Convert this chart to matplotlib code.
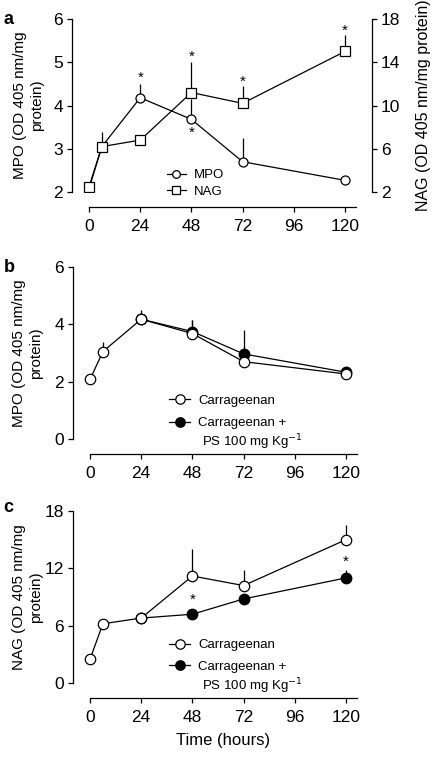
import numpy as np
import matplotlib
matplotlib.use('Agg')
import matplotlib.pyplot as plt

plt.rcParams['font.family'] = ['Liberation Sans', 'DejaVu Sans']
plt.rcParams['font.size'] = 12.5

# time points (hours)
hours = [0, 6, 24, 48, 72, 120]
hours_ps = [24, 48, 72, 120]

# panel a / b : MPO, carrageenan
mpo = [2.08, 3.05, 4.18, 3.68, 2.70, 2.27]
mpo_err = [0.0, 0.33, 0.32, 0.47, 0.55, 0.08]
# panel a / c : NAG, carrageenan
nag = [2.5, 6.2, 6.8, 11.2, 10.2, 15.0]
nag_err = [0.0, 0.0, 0.0, 2.8, 1.6, 1.5]
# carrageenan + PS 100 mg/kg
mpo_ps = [4.18, 3.75, 2.97, 2.33]
mpo_ps_err = [0.0, 0.40, 0.82, 0.0]
nag_ps = [6.8, 7.2, 8.8, 11.0]
nag_ps_err = [0.0, 0.0, 0.0, 0.8]

xticks = [0, 24, 48, 72, 96, 120]
mpo_label = 'MPO (OD 405 nm/mg\nprotein)'
nag_label = 'NAG (OD 405 nm/mg\nprotein)'


def style_axis(ax, ylim, yticks):
    ax.set_xlim(-8, 132.7)
    ax.set_ylim(*ylim)
    ax.set_yticks(yticks)
    ax.set_xticks(xticks)
    ax.spines['top'].set_visible(False)
    ax.spines['right'].set_visible(False)
    ax.spines['bottom'].set_position(('outward', 11))
    ax.spines['bottom'].set_bounds(0, 125)
    ax.tick_params(direction='out', length=3.5, width=0.9, pad=3)
    ax.tick_params(axis='x', pad=5)
    for s in ax.spines.values():
        s.set_linewidth(0.9)


def upper_err(ax, x, y, e):
    ax.errorbar(x, y, yerr=[np.zeros(len(e)), e], fmt='none', ecolor='black',
                elinewidth=0.9, capsize=0, zorder=1)


fig = plt.figure(figsize=(4.32, 7.58), dpi=100)

# ---- panel a
ax = fig.add_axes([0.1667, 0.7467, 0.6944, 0.2282])
style_axis(ax, (2, 6), [2, 3, 4, 5, 6])
ax2 = ax.twinx()
ax2.set_ylim(2, 18)
ax2.set_yticks([2, 6, 10, 14, 18])
for s in ['top', 'left', 'bottom']:
    ax2.spines[s].set_visible(False)
ax2.spines['right'].set_linewidth(0.9)
ax2.tick_params(direction='out', length=3.5, width=0.9, pad=3)

upper_err(ax, hours, mpo, mpo_err)
l1, = ax.plot(hours, mpo, '-o', color='black', lw=0.9, ms=6.5, mfc='white',
              mec='black', mew=0.9, zorder=3, label='MPO')
upper_err(ax2, hours, nag, nag_err)
l2, = ax2.plot(hours, nag, '-s', color='black', lw=0.9, ms=6.5, mfc='white',
               mec='black', mew=0.9, zorder=3, label='NAG')

# asterisks (significance)
star_a = [(24, 4.63), (48, 5.12), (48, 3.38), (72, 4.56), (120, 5.72)]
for x, y in star_a:
    ax.text(x, y, '*', ha='center', va='center', fontsize=11)

ax.set_ylabel(mpo_label, linespacing=1.25, fontsize=11)
ax.yaxis.set_label_coords(-0.093, 0.5)
ax2.set_ylabel('NAG (OD 405 nm/mg protein)', fontsize=11.5)
ax2.yaxis.set_label_coords(1.148, 0.5)
ax.legend(handles=[l1, l2], loc='upper left', bbox_to_anchor=(0.317, 0.133),
          frameon=False, fontsize=9.5, handlelength=1.4, handletextpad=0.6,
          labelspacing=0.35, borderpad=0, borderaxespad=0, markerscale=0.85)
fig.text(0.008, 0.985, 'a', fontsize=13, fontweight='bold', va='top')

# ---- panel b
axb = fig.add_axes([0.169, 0.4208, 0.6944, 0.2269])
style_axis(axb, (0, 6), [0, 2, 4, 6])
upper_err(axb, hours, mpo, mpo_err)
upper_err(axb, hours_ps, mpo_ps, mpo_ps_err)
pb, = axb.plot(hours_ps, mpo_ps, '-o', color='black', lw=0.9, ms=7.5,
               mfc='black', mec='black', zorder=2, label='Carrageenan +')
cb, = axb.plot(hours, mpo, '-o', color='black', lw=0.9, ms=7.5, mfc='white',
               mec='black', mew=0.9, zorder=3, label='Carrageenan')
axb.set_ylabel(mpo_label, linespacing=1.25, fontsize=11)
axb.yaxis.set_label_coords(-0.1, 0.5)
axb.legend(handles=[cb, pb], loc='upper left', bbox_to_anchor=(0.32, 0.26),
           frameon=False, fontsize=9.5, handlelength=1.6, handletextpad=0.6,
           labelspacing=0.8, borderpad=0, borderaxespad=0, markerscale=0.9)
axb.text(0.43, -0.02, 'PS 100 mg Kg$^{-1}$', transform=axb.transAxes,
         fontsize=9.5, va='center')
fig.text(0.008, 0.658, 'b', fontsize=13, fontweight='bold', va='top')

# ---- panel c
axc = fig.add_axes([0.169, 0.0989, 0.6944, 0.2269])
style_axis(axc, (0, 18), [0, 6, 12, 18])
upper_err(axc, hours, nag, nag_err)
upper_err(axc, hours_ps, nag_ps, nag_ps_err)
pc, = axc.plot(hours_ps, nag_ps, '-o', color='black', lw=0.9, ms=7.5,
               mfc='black', mec='black', zorder=2, label='Carrageenan +')
cc, = axc.plot(hours, nag, '-o', color='black', lw=0.9, ms=7.5, mfc='white',
               mec='black', mew=0.9, zorder=3, label='Carrageenan')
for x, y in [(48, 8.7), (120, 12.7)]:
    axc.text(x, y, '*', ha='center', va='center', fontsize=11)
axc.set_ylabel(nag_label, linespacing=1.25, fontsize=11)
axc.yaxis.set_label_coords(-0.1, 0.5)
axc.set_xlabel('Time (hours)', fontsize=12, labelpad=6)
axc.legend(handles=[cc, pc], loc='upper left', bbox_to_anchor=(0.32, 0.255),
           frameon=False, fontsize=9.5, handlelength=1.6, handletextpad=0.6,
           labelspacing=0.7, borderpad=0, borderaxespad=0, markerscale=0.9)
axc.text(0.43, -0.02, 'PS 100 mg Kg$^{-1}$', transform=axc.transAxes,
         fontsize=9.5, va='center')
fig.text(0.008, 0.342, 'c', fontsize=13, fontweight='bold', va='top')

fig.savefig('out.png', dpi=100)
